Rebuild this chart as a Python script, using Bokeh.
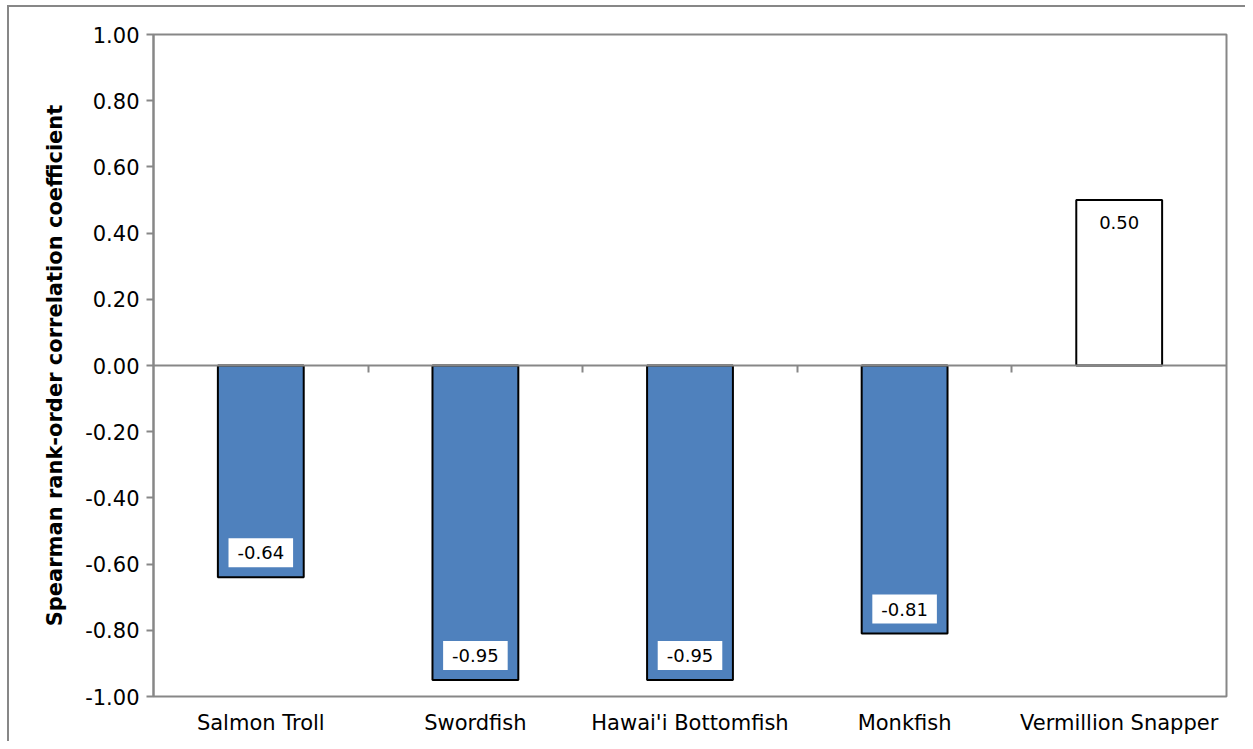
from bokeh.plotting import figure
from bokeh.models import (ColumnDataSource, Range1d, FixedTicker, LinearAxis, Span)
from bokeh.core.properties import value
from bokeh.embed import file_html
from bokeh.resources import INLINE

# ---- data ----
categories = ["Salmon Troll", "Swordfish", "Hawai'i Bottomfish", "Monkfish", "Vermillion Snapper"]
values = [-0.64, -0.95, -0.95, -0.81, 0.50]
labels = ["-0.64", "-0.95", "-0.95", "-0.81", "0.50"]
fills = ["#4F81BD", "#4F81BD", "#4F81BD", "#4F81BD", "#FFFFFF"]
y_ticks = [-1.0, -0.8, -0.6, -0.4, -0.2, 0.0, 0.2, 0.4, 0.6, 0.8, 1.0]
y_title = "Spearman rank-order correlation coefficient"

GRAY = "#878787"
FONT = "DejaVu Sans"

n = len(categories)
xs = [i + 0.5 for i in range(n)]
boundaries = [float(i) for i in range(1, n)]

neg = [v < 0 for v in values]
src_neg = ColumnDataSource(dict(x=[x for x, m in zip(xs, neg) if m],
                                y=[v for v, m in zip(values, neg) if m],
                                t=[l for l, m in zip(labels, neg) if m]))
src_pos = ColumnDataSource(dict(x=[x for x, m in zip(xs, neg) if not m],
                                y=[v for v, m in zip(values, neg) if not m],
                                t=[l for l, m in zip(labels, neg) if not m]))
src = ColumnDataSource(dict(x=xs, top=values, fill=fills))

p = figure(width=1245, height=741, output_backend="svg", toolbar_location=None,
           x_range=Range1d(0, n), y_range=Range1d(-1.0, 1.0),
           min_border_left=153, min_border_right=19, min_border_top=34,
           min_border_bottom=45)

# outer chart-area border (only left and top edges fall inside the view)
p.border_fill_color = None
p.background_fill_color = "white"
p.styles = {
    "background": (f"linear-gradient({GRAY},{GRAY}) 7px 5px / 2px 3000px no-repeat, "
                   f"linear-gradient({GRAY},{GRAY}) 7px 5px / 3000px 2px no-repeat, white"),
}

p.xgrid.visible = False
p.ygrid.visible = False
p.outline_line_color = GRAY
p.outline_line_width = 2

# bars
p.vbar(x="x", top="top", bottom=0, width=0.4, source=src,
       fill_color="fill", line_color="black", line_width=2)

# zero axis line
p.add_layout(Span(location=0, dimension="width", line_color=GRAY, line_width=2))

# category boundary ticks on the zero line
zax = LinearAxis(fixed_location=0, ticker=FixedTicker(ticks=boundaries))
zax.axis_line_color = None
zax.major_tick_line_color = GRAY
zax.major_tick_line_width = 2
zax.major_tick_out = 7
zax.major_tick_in = 0
zax.minor_tick_line_color = None
zax.major_label_text_font_size = "0px"
zax.major_label_text_color = None
p.add_layout(zax, "below")

# category label axis
xa = p.xaxis[0]
xa.ticker = FixedTicker(ticks=xs)
xa.major_label_overrides = {x: c for x, c in zip(xs, categories)}
xa.axis_line_color = None
xa.major_tick_line_color = None
xa.minor_tick_line_color = None
xa.major_label_standoff = 8
xa.major_label_text_font = FONT
xa.major_label_text_font_size = "21px"
xa.major_label_text_color = "black"

# y axis
ya = p.yaxis[0]
ya.ticker = FixedTicker(ticks=y_ticks)
ya.major_label_overrides = {t: f"{t:.2f}" for t in y_ticks}
ya.axis_line_color = GRAY
ya.axis_line_width = 2
ya.major_tick_line_color = GRAY
ya.major_tick_line_width = 2
ya.major_tick_out = 7
ya.major_tick_in = 0
ya.minor_tick_line_color = None
ya.major_label_standoff = 7
ya.major_label_text_font = FONT
ya.major_label_text_font_size = "21px"
ya.major_label_text_color = "black"
ya.axis_label = y_title
ya.axis_label_text_font = FONT
ya.axis_label_text_font_style = "bold"
ya.axis_label_text_font_size = "21px"
ya.axis_label_text_color = "black"
ya.axis_label_standoff = 15

# data labels
common = dict(text="t", text_font=value(FONT), text_font_size="18px", text_align="center",
              text_color="black", background_fill_color="white", padding=dict(x=9, y=8))
p.text(x="x", y="y", source=src_neg, text_baseline="bottom", y_offset=-10, **common)
p.text(x="x", y="y", source=src_pos, text_baseline="top", y_offset=8, **common)

open("out.html", "w").write(file_html(p, INLINE))
